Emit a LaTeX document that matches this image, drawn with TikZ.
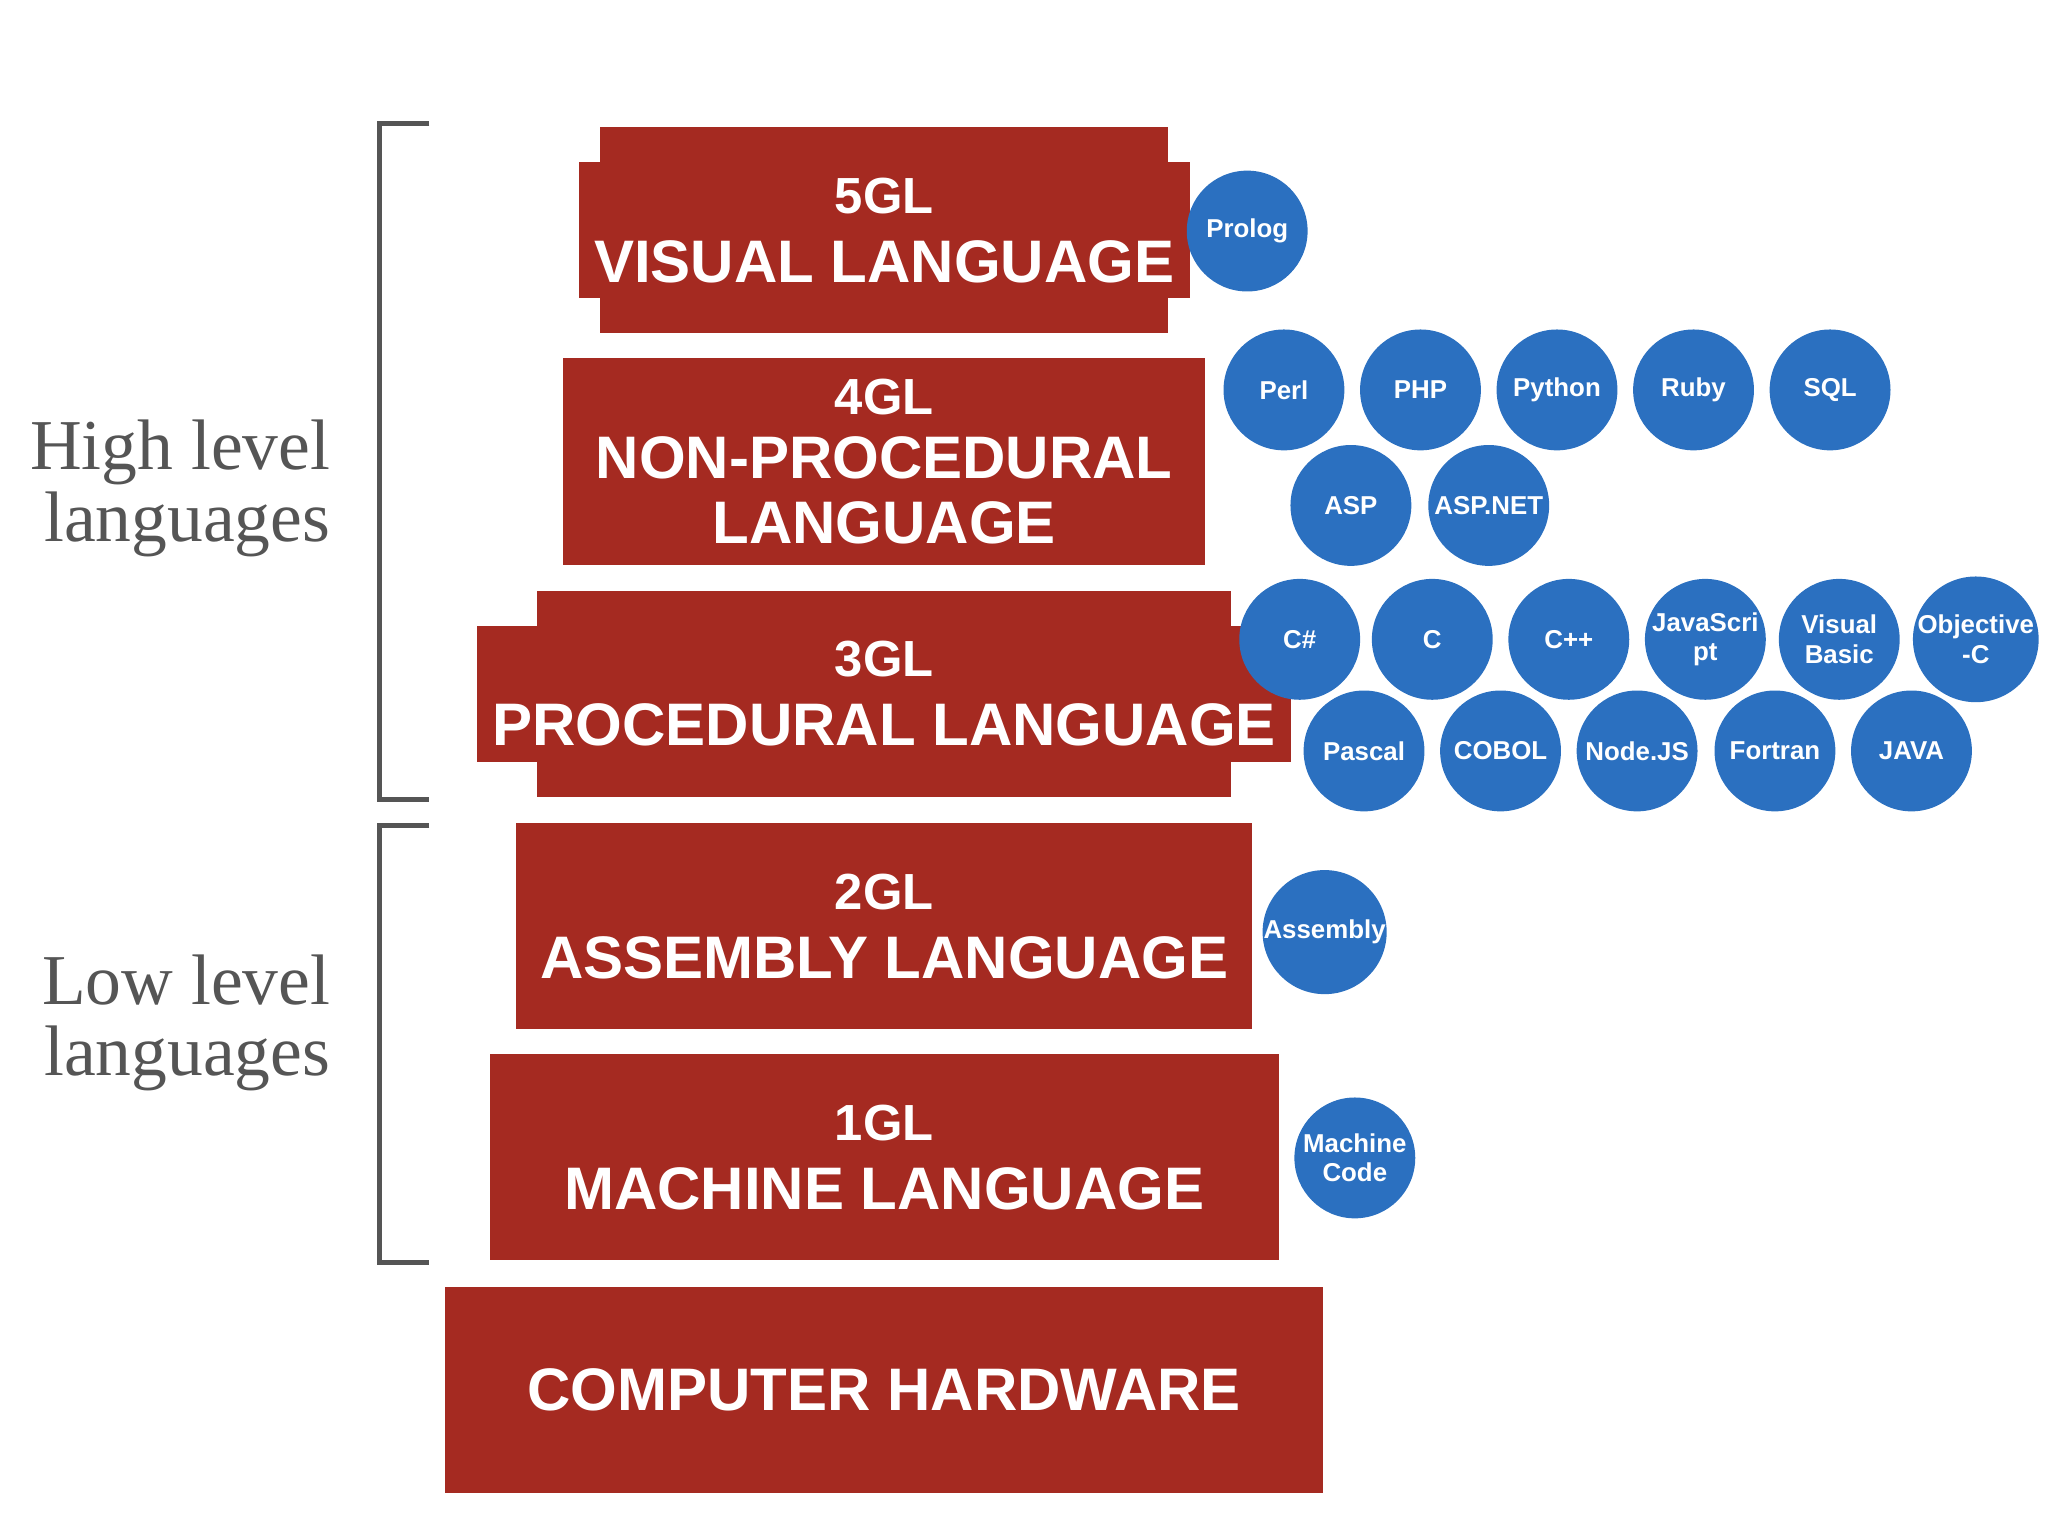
\documentclass[tikz,border=0pt]{standalone}
\usepackage{fontspec}
\setmainfont{Liberation Sans}
\newfontfamily\serifx{Liberation Serif}
\definecolor{boxred}{HTML}{A52A21}
\definecolor{circblue}{HTML}{2B70C0}
\definecolor{brk}{HTML}{555555}
\begin{document}
\begin{tikzpicture}[x=0.01cm,y=-0.01cm,
 box/.style={fill=boxred,draw=none,text=white,font=\bfseries\fontsize{13}{15}\selectfont,align=center},
 lang/.style={circle,fill=circblue,minimum size=0.92cm,inner sep=0pt,text=white,font=\bfseries\fontsize{5.6}{6.4}\selectfont,align=center},
 br/.style={draw=brk,line width=1.1pt},
 lbl/.style={text=brk,font=\serifx\fontsize{15.5}{15.5}\selectfont,align=right}]
\useasboundingbox (0,0) rectangle (1560,1170);
\newcommand{\gl}[1]{{\fontsize{11}{13}\selectfont #1}}
\fill[boxred] (457,97) rectangle (890,254); \node[box] (b5) at (673.5,175.5) {\gl{5GL}\\VISUAL LANGUAGE};
\fill[boxred] (429,273) rectangle (918,430); \node[box,align=center] (b4) at (673.5,351.5) {\gl{4GL}\\[-1pt]NON-PROCEDURAL\\[-1pt]LANGUAGE};
\fill[boxred] (409,450) rectangle (938,607); \node[box] (b3) at (673.5,528.5) {\gl{3GL}\\PROCEDURAL LANGUAGE};
\fill[boxred] (393,627) rectangle (954,784); \node[box] (b2) at (673.5,705.5) {\gl{2GL}\\ASSEMBLY LANGUAGE};
\fill[boxred] (373,803) rectangle (974,960); \node[box] (b1) at (673.5,881.5) {\gl{1GL}\\MACHINE LANGUAGE};
\fill[boxred] (339,980) rectangle (1008,1137); \node[box] (b0) at (673.5,1058.5) {COMPUTER HARDWARE};
\node[lang] (prolog) at (950,176) {Prolog};
\node[lang] (perl) at (978,297) {Perl};
\node[lang] (php) at (1082,297) {PHP};
\node[lang] (python) at (1186,297) {Python};
\node[lang] (ruby) at (1290,297) {Ruby};
\node[lang] (sql) at (1394,297) {SQL};
\node[lang] (asp) at (1029,385) {ASP};
\node[lang] (aspnet) at (1134,385) {ASP.NET};
\node[lang] (cs) at (990,487) {C\#};
\node[lang] (c) at (1091,487) {C};
\node[lang] (cpp) at (1195,487) {C++};
\node[lang] (js) at (1299,487) {JavaScri\\pt};
\node[lang] (vb) at (1401,487) {Visual\\Basic};
\node[lang] (objc) at (1505,487) {Objective\\-C};
\node[lang] (pascal) at (1039,572) {Pascal};
\node[lang] (cobol) at (1143,572) {COBOL};
\node[lang] (node) at (1247,572) {Node.JS};
\node[lang] (fortran) at (1352,572) {Fortran};
\node[lang] (java) at (1456,572) {JAVA};
\node[lang] (asm) at (1009,710) {Assembly};
\node[lang] (mc) at (1032,882) {Machine\\Code};
\draw[br] (327,94) -- (289,94) -- (289,609) -- (327,609);
\draw[br] (327,629) -- (289,629) -- (289,962) -- (327,962);
\node[lbl,anchor=east] (hl) at (264,372) {High level\\languages};
\node[lbl,anchor=east] (ll) at (264,779) {Low level\\languages};
\end{tikzpicture}
\end{document}
